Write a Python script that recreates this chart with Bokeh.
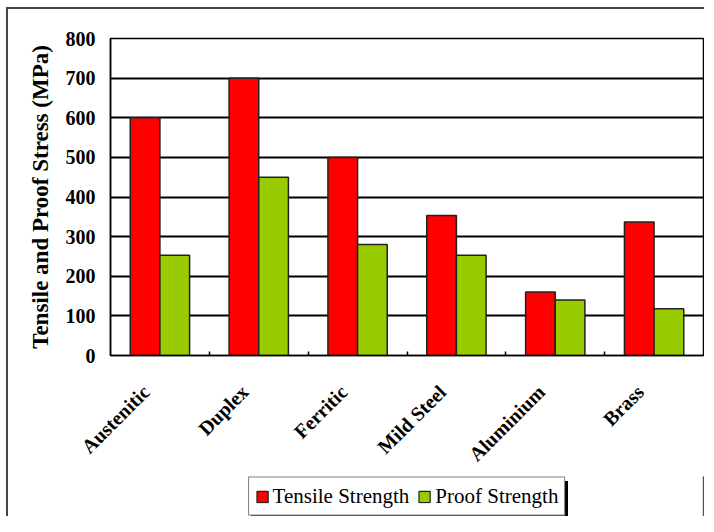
import math
from bokeh.plotting import figure
from bokeh.layouts import column
from bokeh.models import (ColumnDataSource, FixedTicker, Range1d, Legend, LegendItem,
                          InlineStyleSheet)
from bokeh.transform import dodge
from bokeh.embed import file_html
from bokeh.resources import INLINE

categories = ["Austenitic", "Duplex", "Ferritic", "Mild Steel", "Aluminium", "Brass"]
tensile = [600, 700, 500, 353, 160, 337]
proof = [253, 450, 280, 253, 140, 118]
y_ticks = [0, 100, 200, 300, 400, 500, 600, 700, 800]
series_names = ["Tensile Strength", "Proof Strength"]
series_colors = ["#FF0000", "#99CC00"]

centers = [i + 0.5 for i in range(len(categories))]
label_pos = [c - 0.14 for c in centers]       # Excel-style placement of slanted labels
boundaries = [i for i in range(1, len(categories))]
src = ColumnDataSource(dict(x=centers, tensile=tensile, proof=proof))

SERIF = "Liberation Serif"
W = 704

p = figure(width=W, height=476, output_backend="svg", toolbar_location=None,
           x_range=Range1d(0, len(categories)), y_range=Range1d(0, 800),
           min_border_left=110, min_border_right=1, min_border_top=38,
           min_border_bottom=118)

p.background_fill_color = "white"
p.border_fill_color = "white"
p.outline_line_color = "black"
p.outline_line_width = 1.5

p.vbar(x=dodge("x", -0.15, range=p.x_range), top="tensile", width=0.3, source=src,
       fill_color=series_colors[0], line_color="#222222", line_width=1.5)
p.vbar(x=dodge("x", 0.15, range=p.x_range), top="proof", width=0.3, source=src,
       fill_color=series_colors[1], line_color="#222222", line_width=1.5)

# x axis
xa = p.xaxis[0]
xa.ticker = FixedTicker(ticks=label_pos, minor_ticks=boundaries)
xa.major_label_overrides = {c: lab for c, lab in zip(label_pos, categories)}
xa.major_tick_line_color = None
xa.minor_tick_in = 4
xa.minor_tick_out = 0
xa.minor_tick_line_color = "black"
xa.minor_tick_line_width = 1.5
xa.axis_line_color = "black"
xa.axis_line_width = 1.5
xa.major_label_orientation = math.pi / 4
xa.major_label_text_font = SERIF
xa.major_label_text_font_style = "bold"
xa.major_label_text_font_size = "20px"
xa.major_label_text_color = "black"
xa.major_label_standoff = 27

# y axis
ya = p.yaxis[0]
ya.ticker = FixedTicker(ticks=y_ticks)
ya.major_tick_in = 0
ya.major_tick_out = 0
ya.minor_tick_line_color = None
ya.axis_line_color = "black"
ya.axis_line_width = 1.5
ya.major_label_text_font = SERIF
ya.major_label_text_font_style = "bold"
ya.major_label_text_font_size = "20px"
ya.major_label_text_color = "black"
ya.major_label_standoff = 15
ya.axis_label = "Tensile and Proof Stress (MPa)"
ya.axis_label_text_font = SERIF
ya.axis_label_text_font_style = "bold"
ya.axis_label_text_font_size = "23px"
ya.axis_label_text_color = "black"
ya.axis_label_standoff = 10

p.xgrid.grid_line_color = None
p.ygrid.grid_line_color = "black"
p.ygrid.grid_line_width = 2
p.ygrid.grid_line_alpha = 1.0

# legend strip below the chart
lf = figure(width=W, height=40, output_backend="svg", toolbar_location=None,
            x_range=Range1d(0, 1), y_range=Range1d(0, 1),
            x_axis_type=None, y_axis_type=None,
            min_border_left=110, min_border_right=1, min_border_top=0,
            min_border_bottom=0)
lf.outline_line_color = None
lf.background_fill_alpha = 0
lf.border_fill_alpha = 0
lf.xgrid.grid_line_color = None
lf.ygrid.grid_line_color = None
# legend proxies: kept outside the visible x range of this strip
proxy = ColumnDataSource(dict(x=[len(categories)], top=[1]))
lr = [lf.vbar(x="x", top="top", width=0.1, source=proxy, fill_color=c,
              line_color="#222222", line_width=1.2) for c in series_colors]

legend = Legend(items=[LegendItem(label=n, renderers=[r]) for n, r in zip(series_names, lr)],
                orientation="horizontal", location="center")
legend.label_text_font = SERIF
legend.label_text_font_size = "21px"
legend.label_text_color = "black"
legend.glyph_width = 14
legend.glyph_height = 14
legend.spacing = 8
legend.padding = 6
legend.margin = 0
legend.label_standoff = 4
legend.label_height = 22
legend.border_line_color = "black"
legend.border_line_width = 1.5
legend.background_fill_color = "white"
legend.background_fill_alpha = 1.0
lf.add_layout(legend, "center")

layout = column(p, lf, spacing=0)

# outer chart border (top and left edges, as in the reference)
p.stylesheets = [InlineStyleSheet(css="""
:host::after {
  content: ''; position: absolute; left: 6px; top: 7px; right: 0px; bottom: 0px;
  border-top: 2px solid #444; border-left: 2px solid #444; pointer-events: none;
}
""")]
lf.stylesheets = [InlineStyleSheet(css="""
:host::after {
  content: ''; position: absolute; left: 6px; top: 0px; width: 0px; bottom: 0px;
  border-left: 2px solid #444; pointer-events: none;
}
:host::before {
  content: ''; position: absolute; left: 251px; top: 5px; width: 317px; height: 35px;
  background: black; z-index: -1; pointer-events: none;
}
""")]

open("out.html", "w").write(file_html(layout, INLINE))
